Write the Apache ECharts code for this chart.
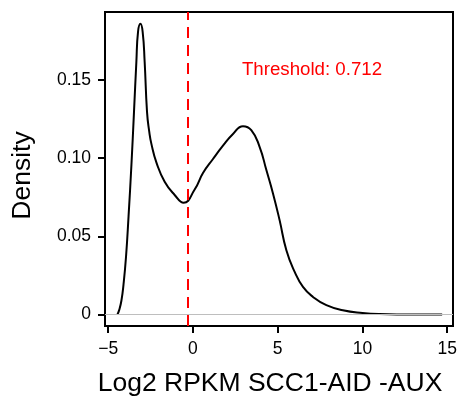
<!DOCTYPE html>
<html>
<head>
<meta charset="utf-8">
<script src="https://cdn.jsdelivr.net/npm/echarts@6/dist/echarts.min.js"></script>
<style>
html,body{margin:0;padding:0;background:#fff;}
#chart{width:462px;height:405px;}
</style>
</head>
<body>
<div id="chart"></div>
<script>
// Density curve (log2 RPKM vs density)
var densityX = [-4.46,-4.35,-4.22,-4.10,-3.95,-3.80,-3.63,-3.48,-3.34,-3.24,-3.10,-2.97,-2.85,-2.71,-2.58,-2.45,-2.15,-1.67,-1.08,-0.55,0.10,0.59,1.18,1.77,2.36,2.95,3.44,3.93,4.33,4.72,5.11,5.51,6.00,6.49,7.08,7.87,8.84,10.0,11.0,12.5,14.7];
var densityY = [0.000,0.003,0.009,0.019,0.037,0.063,0.096,0.1295,0.1615,0.181,0.186,0.181,0.1615,0.1295,0.117,0.109,0.097,0.085,0.0765,0.0715,0.080,0.0905,0.0995,0.1080,0.1155,0.1205,0.118,0.1073,0.0924,0.0775,0.0604,0.0412,0.0273,0.0177,0.0113,0.006,0.0028,0.001,0.0003,0.0001,0.0];
var xTicks = [-5, 0, 5, 10, 15];
var xTickLabels = ['\u22125', '0', '5', '10', '15'];
var yTicks = [0, 0.05, 0.10, 0.15];
var yTickLabels = ['0', '0.05', '0.10', '0.15'];
var thresholdX = -0.33;
var thresholdLabel = 'Threshold: 0.712';
var xTitle = 'Log2 RPKM SCC1-AID -AUX';
var yTitle = 'Density';

var pts = densityX.map(function(x, i){ return [x, densityY[i]]; });
var FONT = 'Liberation Sans, Arial, Helvetica, sans-serif';

var chart = echarts.init(document.getElementById('chart'), null, {renderer:'canvas'});
chart.setOption({
  animation: false,
  backgroundColor: '#fff',
  grid: {left:105, top:12, width:348, height:314, show:true, borderColor:'#000', borderWidth:2, backgroundColor:'transparent'},
  xAxis: {
    type:'value', min:-5.19, max:15.34,
    splitLine:{show:false},
    axisLine:{show:false, onZero:false},
    axisTick:{show:true, length:7, lineStyle:{color:'#000', width:2}, customValues: xTicks},
    axisLabel:{show:true, margin:14, color:'#000', fontSize:17.5, fontFamily:FONT, customValues: xTicks,
      formatter:function(v){ var i = xTicks.indexOf(v); return i>=0 ? xTickLabels[i] : ''; }}
  },
  yAxis: {
    type:'value', min:-0.0073, max:0.1935,
    splitLine:{show:false},
    axisLine:{show:false, onZero:false},
    axisTick:{show:true, length:7, lineStyle:{color:'#000', width:2}, customValues: yTicks},
    axisLabel:{show:true, margin:14, color:'#000', fontSize:17.5, fontFamily:FONT, customValues: yTicks,
      formatter:function(v){ for (var i=0;i<yTicks.length;i++){ if (Math.abs(yTicks[i]-v)<1e-9) return yTickLabels[i]; } return ''; }}
  },
  series: [
    {
      type:'line', data: pts, showSymbol:false, smooth:0.5,
      lineStyle:{color:'#000', width:2}, z:3,
      markLine:{
        silent:true, symbol:['none','none'], label:{show:false}, animation:false,
        data:[
          {yAxis:0, lineStyle:{color:'#bebebe', width:1, type:'solid'}},
          {xAxis:thresholdX, lineStyle:{color:'#ff0000', width:2, type:[11,7]}}
        ]
      }
    }
  ],
  graphic: [
    {type:'text', x:312, y:70, style:{text:thresholdLabel, fill:'#ff0000', font:'18.7px ' + FONT, textAlign:'center', textVerticalAlign:'middle'}},
    {type:'text', x:270, y:384, style:{text:xTitle, fill:'#000', font:'26.5px ' + FONT, textAlign:'center', textVerticalAlign:'middle'}},
    {type:'text', x:23, y:175.5, rotation:Math.PI/2, style:{text:yTitle, fill:'#000', font:'26.5px ' + FONT, textAlign:'center', textVerticalAlign:'middle'}}
  ]
});
</script>
</body>
</html>
